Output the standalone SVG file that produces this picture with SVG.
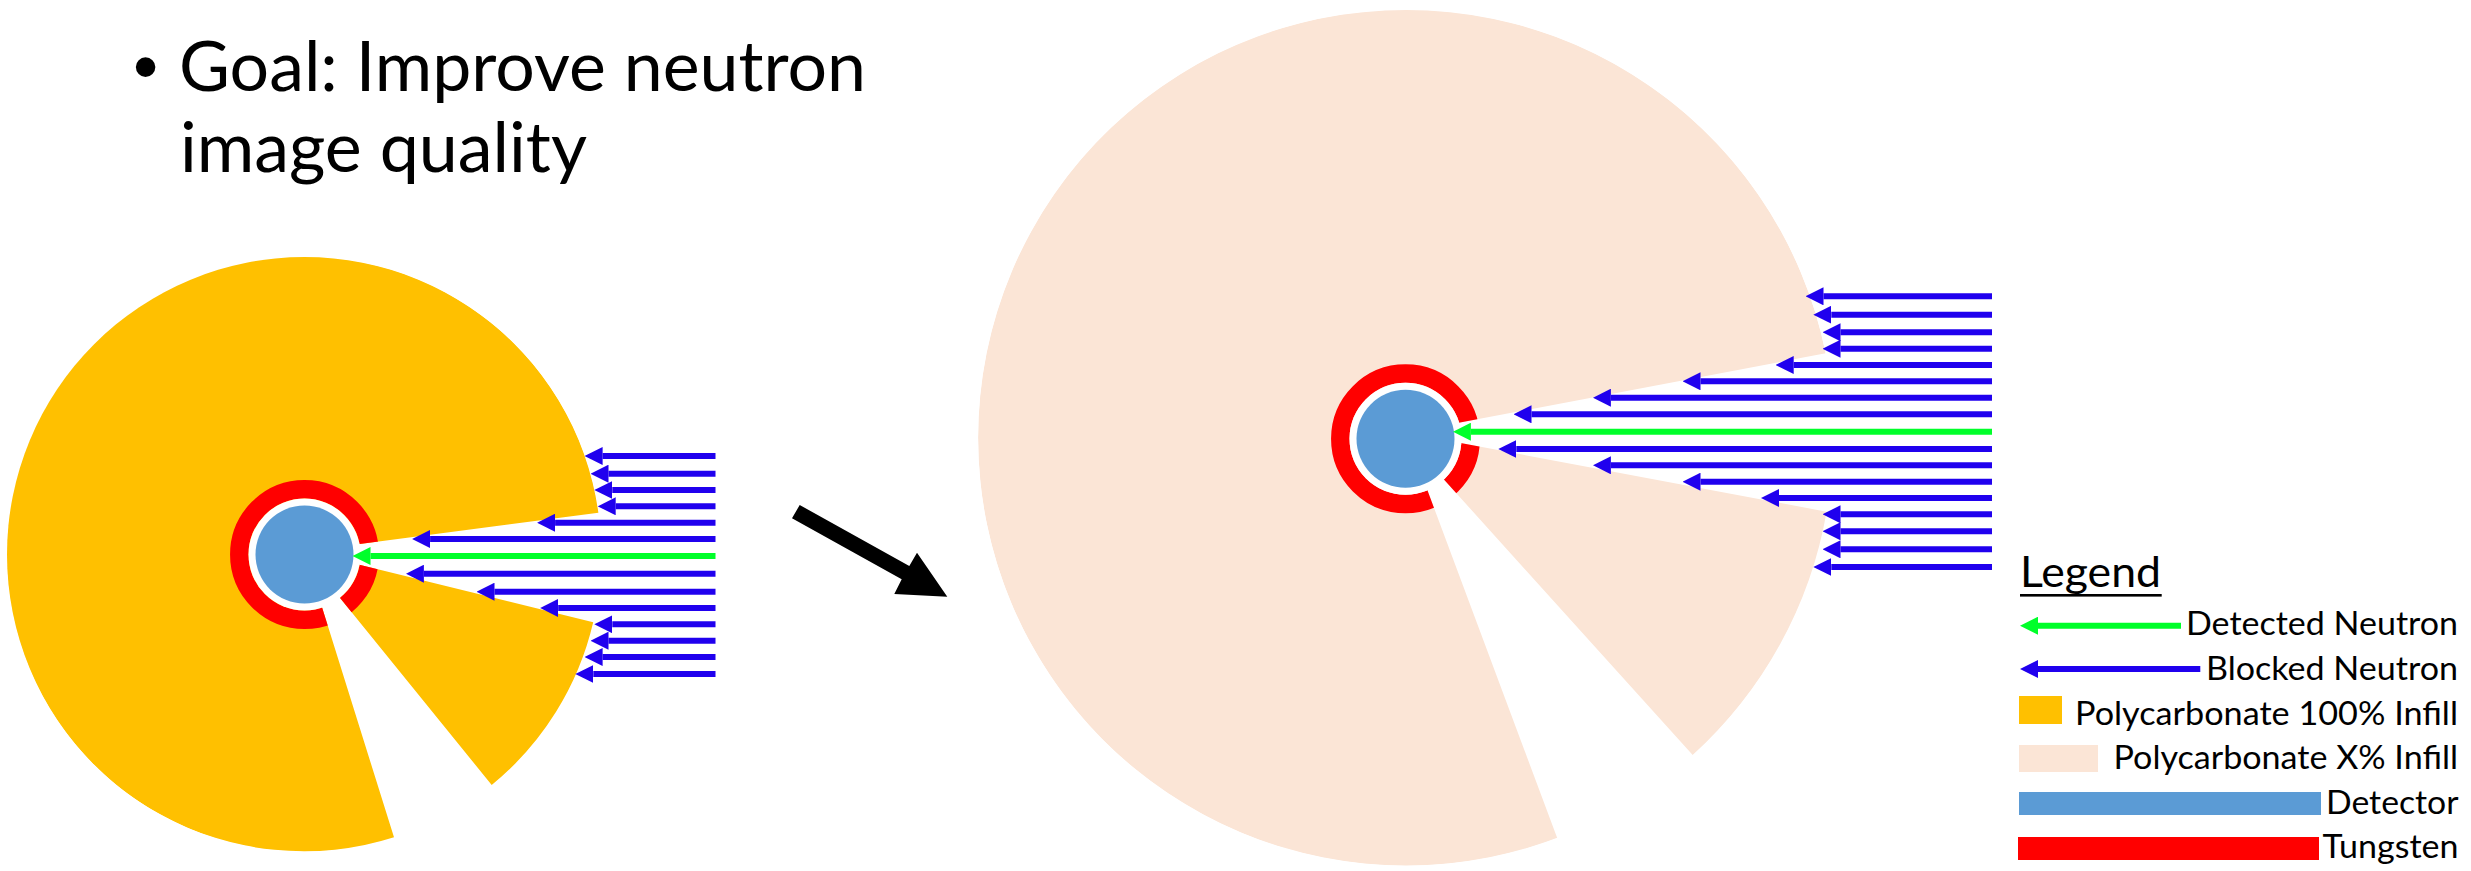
<svg xmlns="http://www.w3.org/2000/svg" width="2471" height="871" viewBox="0 0 2471 871">
<style>
text{font-family:Lato,"Liberation Sans",sans-serif;fill:#000}
.t{font-size:69px}.l{font-size:33px}
.b{stroke:#2000EE;stroke-width:6;marker-end:url(#hb)}
.g{stroke:#00FF2A;stroke-width:6;marker-end:url(#hg)}
.o{fill:#FFC000}.p{fill:#FBE5D6}.d{fill:#5B9BD5}.r{fill:#FF0000}
.ring{fill:none;stroke:#FF0000;stroke-width:18.5}
</style>
<defs>
<marker id="hb" viewBox="-18 -9 18 18" refX="0" refY="0" markerWidth="18" markerHeight="18" markerUnits="userSpaceOnUse" orient="0"><path d="M0-9L-18 0L0 9Z" fill="#2000EE"/></marker>
<marker id="hg" viewBox="-18 -9 18 18" refX="0" refY="0" markerWidth="18" markerHeight="18" markerUnits="userSpaceOnUse" orient="0"><path d="M0-9L-18 0L0 9Z" fill="#00FF2A"/></marker>
<clipPath id="cl"><path d="M304.5 551.3L598.4 512.7A297.5 297.5 0 1 0 394 837.3ZM304.5 551.3L593.2 622.3A297.5 297.5 0 0 1 491.7 785L305 554.7Z"/></clipPath>
<clipPath id="cr"><path d="M1406 432.8L1825.7 353.3A428 428 0 1 0 1557.3 838.3ZM1406 432.8L1826.6 511.7A428 428 0 0 1 1692.7 755L1406 437.5Z"/></clipPath>
</defs>
<rect width="2471" height="871" fill="#fff"/>
<g id="title">
<text x="133" y="91" style="font-family:'Liberation Sans',sans-serif;font-size:72px">•</text>
<text class="t" x="179" y="91" textLength="687" lengthAdjust="spacingAndGlyphs">Goal: Improve neutron</text>
<text class="t" x="180" y="171.7" textLength="407" lengthAdjust="spacingAndGlyphs">image quality</text>
</g>
<g id="shield-solid">
<circle class="o" cx="304.5" cy="554.5" r="297.5" clip-path="url(#cl)"/>
<circle class="ring" cx="304.5" cy="554.5" r="65.2" clip-path="url(#cl)"/>
<circle fill="#fff" cx="304.5" cy="554.5" r="56"/>
<circle class="d" cx="304.5" cy="554.5" r="49"/>
</g>
<g id="shield-infill">
<circle class="p" cx="1406" cy="437.5" r="428" clip-path="url(#cr)"/>
<circle class="ring" cx="1405.5" cy="438.8" r="65.2" clip-path="url(#cr)"/>
<circle fill="#fff" cx="1405.5" cy="438.8" r="56"/>
<circle class="d" cx="1405.5" cy="438.8" r="49"/>
</g>
<g id="connectors">
<line class="b" x1="715.5" y1="456" x2="602.6" y2="456"/>
<line class="b" x1="715.5" y1="473.7" x2="608.5" y2="473.7"/>
<line class="b" x1="715.5" y1="490" x2="612.3" y2="490"/>
<line class="b" x1="715.5" y1="506.3" x2="615.7" y2="506.3"/>
<line class="b" x1="715.5" y1="522.7" x2="555.1" y2="522.7"/>
<line class="b" x1="715.5" y1="539" x2="430.1" y2="539"/>
<line class="g" x1="715.5" y1="556" x2="370.5" y2="556"/>
<line class="b" x1="715.5" y1="573.7" x2="423.9" y2="573.7"/>
<line class="b" x1="715.5" y1="591.7" x2="494.5" y2="591.7"/>
<line class="b" x1="715.5" y1="608" x2="558.2" y2="608"/>
<line class="b" x1="715.5" y1="624.3" x2="612.3" y2="624.3"/>
<line class="b" x1="715.5" y1="640.7" x2="608.5" y2="640.7"/>
<line class="b" x1="715.5" y1="657" x2="602.6" y2="657"/>
<line class="b" x1="715.5" y1="674" x2="593.3" y2="674"/>

<line class="b" x1="1992" y1="296.3" x2="1823.5" y2="296.3"/>
<line class="b" x1="1992" y1="314.7" x2="1831.3" y2="314.7"/>
<line class="b" x1="1992" y1="332.3" x2="1840.5" y2="332.3"/>
<line class="b" x1="1992" y1="348.7" x2="1840.5" y2="348.7"/>
<line class="b" x1="1992" y1="365" x2="1793.7" y2="365"/>
<line class="b" x1="1992" y1="381.3" x2="1700.5" y2="381.3"/>
<line class="b" x1="1992" y1="397.7" x2="1610.9" y2="397.7"/>
<line class="b" x1="1992" y1="414.3" x2="1531.5" y2="414.3"/>
<line class="g" x1="1992" y1="431.7" x2="1470.9" y2="431.7"/>
<line class="b" x1="1992" y1="449" x2="1516.3" y2="449"/>
<line class="b" x1="1992" y1="465.3" x2="1610.9" y2="465.3"/>
<line class="b" x1="1992" y1="481.7" x2="1700.5" y2="481.7"/>
<line class="b" x1="1992" y1="498" x2="1779" y2="498"/>
<line class="b" x1="1992" y1="514.3" x2="1840.5" y2="514.3"/>
<line class="b" x1="1992" y1="531.3" x2="1840.5" y2="531.3"/>
<line class="b" x1="1992" y1="549.3" x2="1840.5" y2="549.3"/>
<line class="b" x1="1992" y1="567" x2="1831.3" y2="567"/>
<polygon id="transition-arrow" points="799.7,505 792,518.3 901.7,579.3 894.3,594 947.3,596.7 917,552.7 909.3,566" fill="#000"/>
</g>
<g id="legend">
<text x="2020" y="587.3" style="font-size:43px" textLength="141" lengthAdjust="spacingAndGlyphs">Legend</text>
<rect x="2020" y="594" width="141.7" height="2.6" fill="#000"/>
<g id="legend-detected"><line class="g" x1="2181" y1="625.7" x2="2038" y2="625.7"/><text class="l" x="2186" y="635.3" textLength="272" lengthAdjust="spacingAndGlyphs">Detected Neutron</text></g>
<g id="legend-blocked"><line class="b" x1="2200.3" y1="669" x2="2038" y2="669"/><text class="l" x="2206" y="680.3" textLength="252" lengthAdjust="spacingAndGlyphs">Blocked Neutron</text></g>
<g id="legend-solid"><rect class="o" x="2019" y="696" width="43" height="28"/><text class="l" x="2075" y="725.3" textLength="383" lengthAdjust="spacingAndGlyphs">Polycarbonate 100% Infill</text></g>
<g id="legend-infill"><rect class="p" x="2019" y="745" width="79" height="27"/><text class="l" x="2113.5" y="769" textLength="344.5" lengthAdjust="spacingAndGlyphs">Polycarbonate X% Infill</text></g>
<g id="legend-detector"><rect class="d" x="2019" y="792" width="302" height="23"/><text class="l" x="2326" y="814.3" textLength="132.5" lengthAdjust="spacingAndGlyphs">Detector</text></g>
<g id="legend-tungsten"><rect class="r" x="2018" y="837" width="301" height="23"/><text class="l" x="2322.5" y="858.3" textLength="136" lengthAdjust="spacingAndGlyphs">Tungsten</text></g>
</g>
</svg>
